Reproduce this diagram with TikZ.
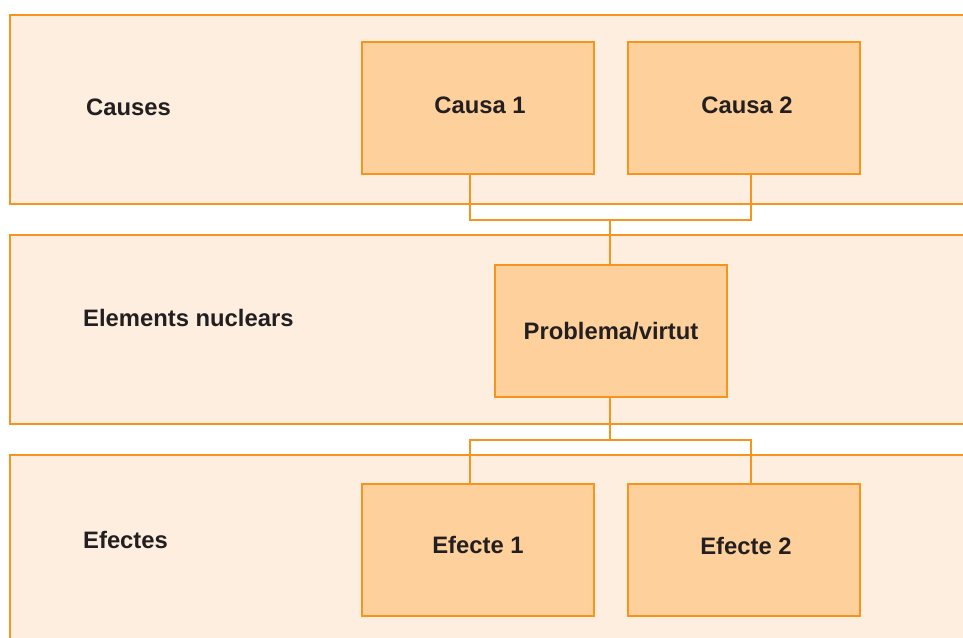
\documentclass[tikz,border=0pt]{standalone}
\usepackage{fontspec}
\setmainfont{Liberation Sans}
\definecolor{bandfill}{HTML}{FDEEDF}
\definecolor{boxfill}{HTML}{FDD09C}
\definecolor{edge}{HTML}{F7941D}
\definecolor{ink}{HTML}{231F20}
\tikzset{
  bandline/.style={draw=edge, line width=1.5pt},
  itembox/.style={draw=edge, fill=boxfill, line width=1.5pt, minimum width=232pt,
    minimum height=132pt, inner sep=0pt, text=ink, font=\fontsize{23.8}{28}\selectfont\bfseries},
  rowlabel/.style={anchor=west, inner sep=0pt, text=ink, font=\fontsize{23.8}{28}\selectfont\bfseries},
  link/.style={draw=edge, line width=1.5pt}
}
\newcommand{\boxtext}[3]{\hspace*{#1}\raisebox{#2}{#3}}
\begin{document}
\begin{tikzpicture}[x=1pt, y=-1pt]
\useasboundingbox (0,0) rectangle (963,637);
\begin{scope}
  \clip (0,0) rectangle (963,637);
  % three horizontal bands, open to the right and bottom
  \fill[bandfill] (10,15) rectangle (990,204);
  \fill[bandfill] (10,235) rectangle (990,424);
  \fill[bandfill] (10,455) rectangle (990,660);
  \draw[bandline] (990,15) -- (10,15) -- (10,204) -- (990,204);
  \draw[bandline] (990,235) -- (10,235) -- (10,424) -- (990,424);
  \draw[bandline] (990,455) -- (10,455) -- (10,660);
\end{scope}

% row labels
\node[rowlabel] (lcauses) at (86,107) {Causes};
\node[rowlabel] (lnuclear) at (83,318) {Elements nuclears};
\node[rowlabel] (lefectes) at (83,540) {Efectes};

% boxes
\node[itembox] (c1) at (478,108) {\boxtext{4pt}{6pt}{Causa 1}};
\node[itembox] (c2) at (744,108) {\boxtext{6pt}{6pt}{Causa 2}};
\node[itembox] (p)  at (611,331) {Problema/virtut};
\node[itembox] (e1) at (478,550) {\raisebox{11pt}{Efecte 1}};
\node[itembox] (e2) at (744,550) {\boxtext{4pt}{8pt}{Efecte 2}};

% junction points
\coordinate (jt) at (610,220);
\coordinate (jb) at (610,440);

% connectors
\draw[link] ([xshift=-8pt]c1.south) |- (jt) -| ([xshift=7pt]c2.south);
\draw[link] (jt) -- (p.north -| jt);
\draw[link] (p.south -| jb) -- (jb);
\draw[link] ([xshift=-8pt]e1.north) |- (jb) -| ([xshift=7pt]e2.north);
\end{tikzpicture}
\end{document}
